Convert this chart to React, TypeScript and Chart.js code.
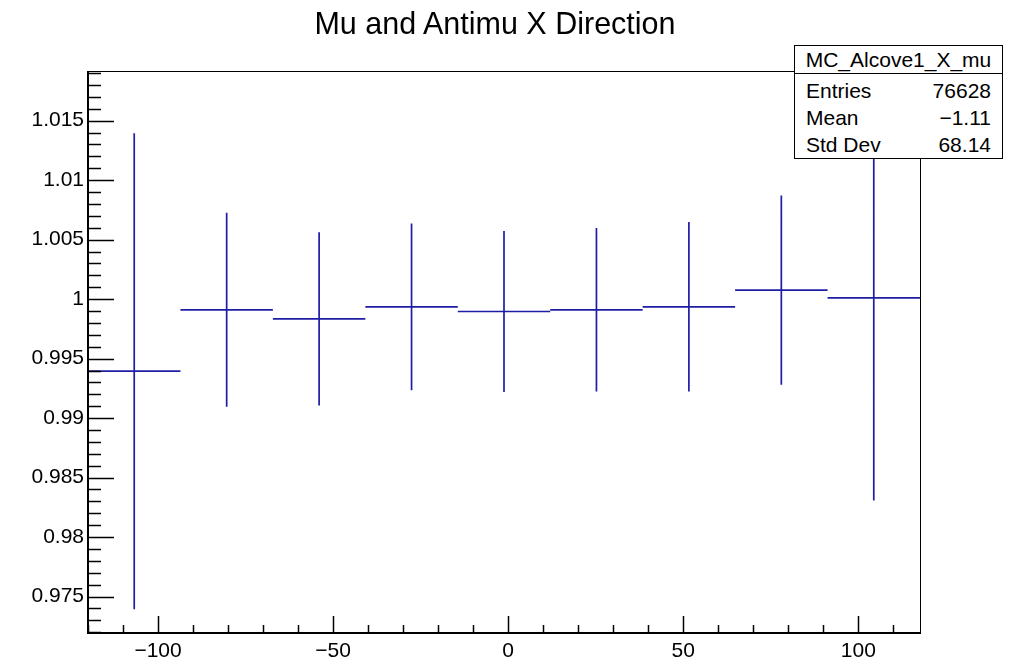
import React, { useEffect, useRef } from 'react';
import { Chart, registerables } from 'chart.js';

Chart.register(...registerables);

// ---- Data ----
const chartTitle = 'Mu and Antimu X Direction';
const binCenters = [-106.8, -80.4, -54.0, -27.6, -1.2, 25.2, 51.6, 78.0, 104.4];
const binHalfWidth = 13.2;
const ratioValues = [0.99394, 0.9991, 0.99834, 0.99935, 0.99896, 0.9991, 0.99935, 1.00076, 1.00011];
const ratioErrors = [0.02, 0.00815, 0.00728, 0.00701, 0.00676, 0.00687, 0.00712, 0.00795, 0.01704];
const xRange = [-120, 117.6];
const yRange = [0.97194, 1.01917];
const xMajorStep = 50;
const xMinorStep = 10;
const yMajorStep = 0.005;
const yMinorStep = 0.001;
const statsTitle = 'MC_Alcove1_X_mu';
const statsLabels = ['Entries', 'Mean', 'Std Dev'];
const statsValues = ['76628', '\u22121.11', '68.14'];

const FONT = '"Liberation Sans", Arial, Helvetica, sans-serif';
const LINE_COLOR = '#1e1ea4';

const framePlugin = {
  id: 'rootFrame',
  afterDatasetsDraw(chart: any) {
    const { ctx, chartArea, scales } = chart;
    const xs = scales.x;
    const ys = scales.y;
    ctx.save();
    ctx.strokeStyle = '#000';
    ctx.lineWidth = 1;
    ctx.strokeRect(chartArea.left + 0.5, chartArea.top + 0.5, chartArea.right - chartArea.left, chartArea.bottom - chartArea.top);
    ctx.lineWidth = 1.5;
    ctx.beginPath();
    // y ticks (inward)
    const yStart = Math.ceil(ys.min / yMinorStep - 1e-6);
    const yEnd = Math.floor(ys.max / yMinorStep + 1e-6);
    for (let i = yStart; i <= yEnd; i++) {
      const v = i * yMinorStep;
      const major = Math.abs(i % 5) === 0;
      const py = Math.round(ys.getPixelForValue(v)) + 0.5;
      const len = major ? 26 : 13;
      ctx.moveTo(chartArea.left, py);
      ctx.lineTo(chartArea.left + len, py);
    }
    // x ticks (inward)
    const xStart = Math.ceil(xs.min / xMinorStep);
    const xEnd = Math.floor(xs.max / xMinorStep);
    for (let i = xStart; i <= xEnd; i++) {
      const v = i * xMinorStep;
      const major = Math.abs(v % xMajorStep) === 0;
      const px = Math.round(xs.getPixelForValue(v)) + 0.5;
      const len = major ? 17 : 8;
      ctx.moveTo(px, chartArea.bottom);
      ctx.lineTo(px, chartArea.bottom - len);
    }
    ctx.stroke();
    // thicker axis lines on left and bottom
    ctx.lineWidth = 2;
    ctx.beginPath();
    ctx.moveTo(chartArea.left, chartArea.top);
    ctx.lineTo(chartArea.left, chartArea.bottom);
    ctx.lineTo(chartArea.right, chartArea.bottom);
    ctx.stroke();
    ctx.restore();
  },
};

export default function App() {
  const canvasRef = useRef<HTMLCanvasElement | null>(null);

  useEffect(() => {
    if (!canvasRef.current) return;
    const horizontal: any[] = [];
    const vertical: any[] = [];
    binCenters.forEach((c, i) => {
      const v = ratioValues[i];
      const e = ratioErrors[i];
      horizontal.push({ x: c - binHalfWidth, y: v }, { x: c + binHalfWidth, y: v }, { x: c + binHalfWidth, y: null });
      vertical.push({ x: c, y: v - e }, { x: c, y: v + e }, { x: c, y: null });
    });

    const chart = new Chart(canvasRef.current, {
      type: 'scatter',
      data: {
        datasets: [
          {
            label: 'bins',
            data: horizontal,
            showLine: true,
            spanGaps: false,
            borderColor: LINE_COLOR,
            borderWidth: 1.7,
            pointRadius: 0,
            pointHoverRadius: 0,
          },
          {
            label: 'errors',
            data: vertical,
            showLine: true,
            spanGaps: false,
            borderColor: LINE_COLOR,
            borderWidth: 1.7,
            pointRadius: 0,
            pointHoverRadius: 0,
          },
        ],
      },
      options: {
        animation: false,
        responsive: false,
        devicePixelRatio: 1,
        layout: { padding: { top: 71, right: 98, left: 0, bottom: 0 } },
        plugins: {
          legend: { display: false },
          title: { display: false },
          tooltip: { enabled: false },
        },
        scales: {
          x: {
            type: 'linear',
            min: xRange[0],
            max: xRange[1],
            grid: { display: false, drawTicks: false },
            border: { display: false },
            afterFit: (s: any) => { s.height = 29; },
            ticks: {
              stepSize: xMajorStep,
              includeBounds: false,
              autoSkip: false,
              maxRotation: 0,
              padding: 6,
              color: '#000',
              font: { family: FONT, size: 21 },
              callback: (v: any) => (v < 0 ? '\u2212' + Math.abs(v) : String(v)),
            },
          },
          y: {
            type: 'linear',
            min: yRange[0],
            max: yRange[1],
            grid: { display: false, drawTicks: false },
            border: { display: false },
            afterFit: (s: any) => { s.width = 88; },
            ticks: {
              stepSize: yMajorStep,
              includeBounds: false,
              autoSkip: false,
              padding: 4,
              color: '#000',
              font: { family: FONT, size: 21 },
              callback: (v: any) => String(Number(Number(v).toFixed(3))),
            },
          },
        },
      },
      plugins: [framePlugin],
    } as any);
    return () => chart.destroy();
  }, []);

  return (
    <div style={{ position: 'fixed', left: 0, top: 0, width: 1018, height: 662, background: '#fff', fontFamily: FONT }}>
      <canvas ref={canvasRef} width={1018} height={662} style={{ display: 'block' }} />
      <div
        style={{
          position: 'absolute', left: 0, top: 7, width: 990, height: 32, lineHeight: '32px',
          textAlign: 'center', fontSize: 30.5, color: '#000', whiteSpace: 'nowrap',
        }}
      >
        {chartTitle}
      </div>
      <div
        style={{
          position: 'absolute', left: 794, top: 45, width: 209, height: 114, boxSizing: 'border-box',
          border: '1px solid #000', background: '#fff', fontSize: 21, color: '#000',
        }}
      >
        <div style={{ height: 27, lineHeight: '27px', textAlign: 'center', borderBottom: '1px solid #000', whiteSpace: 'nowrap' }}>
          {statsTitle}
        </div>
        <div style={{ paddingTop: 3 }}>
          {statsLabels.map((lab, i) => (
            <div key={lab} style={{ height: 27, lineHeight: '27px', display: 'flex', justifyContent: 'space-between', padding: '0 11px' }}>
              <span>{lab}</span>
              <span>{statsValues[i]}</span>
            </div>
          ))}
        </div>
      </div>
    </div>
  );
}
